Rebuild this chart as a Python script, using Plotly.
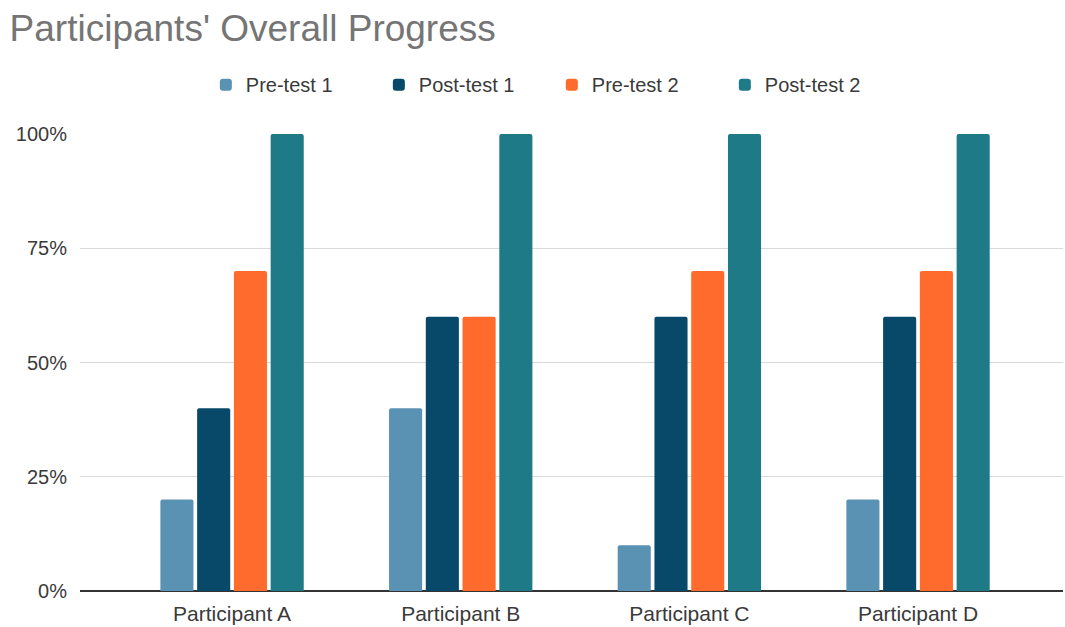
import plotly.graph_objects as go

categories = ["Participant A", "Participant B", "Participant C", "Participant D"]
series_names = ["Pre-test 1", "Post-test 1", "Pre-test 2", "Post-test 2"]
pre_test_1 = [0.20, 0.40, 0.10, 0.20]
post_test_1 = [0.40, 0.60, 0.60, 0.60]
pre_test_2 = [0.70, 0.60, 0.70, 0.70]
post_test_2 = [1.00, 1.00, 1.00, 1.00]
colors = ["#5A92B3", "#084868", "#FF6B2C", "#1E7A87"]
y_ticks = [0, 0.25, 0.5, 0.75, 1.0]
y_tick_labels = ["0%", "25%", "50%", "75%", "100%"]

fig = go.Figure()
for name, vals, col in zip(series_names, [pre_test_1, post_test_1, pre_test_2, post_test_2], colors):
    fig.add_trace(go.Bar(x=categories, y=vals, name=name,
                         marker=dict(color=col, line=dict(width=0), cornerradius=2)))

fig.update_layout(
    width=1065, height=627,
    paper_bgcolor="white", plot_bgcolor="white",
    margin=dict(l=80, r=2, t=134, b=36),
    barmode="group", bargap=0.357, bargroupgap=0.1,
    font=dict(family="Liberation Sans, Arial, sans-serif", color="#3a3a3a", size=19),
    title=dict(text="Participants' Overall Progress", x=0.009, xanchor="left",
               y=0.955, yanchor="middle",
               font=dict(size=37, color="#757575", family="Liberation Sans, Arial, sans-serif")),
    legend=dict(orientation="h", x=0.48, xanchor="center", xref="paper",
                y=1.108, yanchor="middle", yref="paper",
                font=dict(size=20, color="#3a3a3a"), itemwidth=30, entrywidth=128,
                traceorder="normal"),
    showlegend=True,
)
fig.update_xaxes(range=[-0.665, 3.634], showgrid=False, showline=False, ticks="",
                 ticklabelstandoff=8,
                 tickfont=dict(size=21, color="#3a3a3a"))
fig.update_yaxes(range=[0, 1.0], tickvals=y_ticks, ticktext=y_tick_labels,
                 showgrid=True, gridcolor="#D9D9D9", gridwidth=1,
                 zeroline=True, zerolinecolor="#333333", zerolinewidth=1.5,
                 showline=False, ticks="", ticklabelstandoff=12,
                 tickfont=dict(size=20, color="#3a3a3a"))

fig.write_html("out.html")
